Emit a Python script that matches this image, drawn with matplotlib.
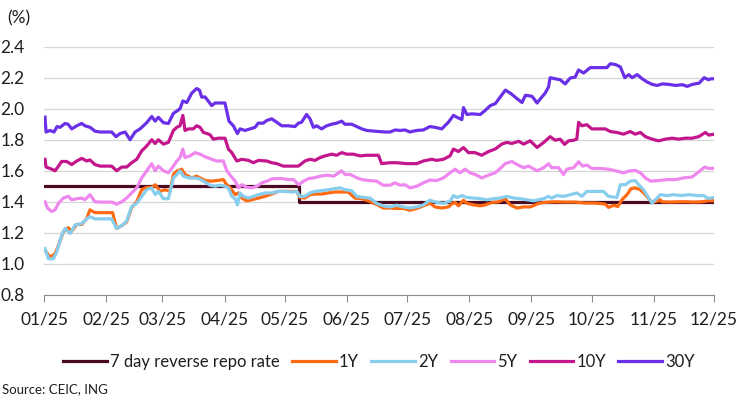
import matplotlib
matplotlib.use("Agg")
import matplotlib.pyplot as plt
import matplotlib.dates as mdates
from matplotlib.ticker import FormatStrFormatter
import numpy as np
import pandas as pd

plt.rcParams['font.family'] = ['Lato', 'DejaVu Sans']
plt.rcParams['text.color'] = '#1e1e1e'
plt.rcParams['xtick.color'] = '#1e1e1e'
plt.rcParams['ytick.color'] = '#1e1e1e'

START = pd.Timestamp('2025-01-01')
END = pd.Timestamp('2025-12-01')

# 7 day reverse repo rate (step)
repo_dates = ['2025-01-01', '2025-05-08', '2025-12-01']
repo = [1.5, 1.4, 1.4]

# days since 1 Jan 2025 and yields (%)
y1_days = [0.5, 3, 5.5, 7.2, 9.6, 12.1, 13.8, 16.3, 18.8, 21.3, 22.9, 25.4, 31.2, 34.2, 36.2, 38.7, 41.2,
           43.7, 46.2, 48.7, 51.2, 53.7, 55.4, 57.8, 60.3, 62.8, 64.5, 66.2, 68.6, 70.3, 73.6, 76.1, 77.8,
           80.3, 83.6, 86.1, 89.4, 91.1, 92.8, 95.3, 96.9, 98.6, 101.1, 103.6, 106.9, 110.2, 113.5,
           116.8, 120.2, 123.5, 126, 127.6, 130.1, 132.6, 135.1, 138.4, 141.7, 145, 148.4, 151.7, 155,
           158.4, 161.7, 165.8, 169.1, 172.5, 175.8, 179.1, 182.4, 185.8, 189.1, 192.4, 194.9, 198.3,
           201.6, 203.7, 204.9, 206.6, 209.1, 210.8, 214.1, 217.5, 220, 223.3, 226.6, 229.9, 232.4,
           235.8, 239.1, 242.4, 244.9, 246.6, 249.1, 254.8, 259.8, 264.8, 269.8, 274.8, 279.8, 281.4,
           283.9, 286.1, 288.1, 290.6, 292.7, 294.7, 297.2, 298.9, 300.5, 302.2, 303.8, 306.3, 307.2,
           308, 312.2, 316.3, 320.5, 323.8, 328, 331.3, 334]
y1 = [1.087, 1.043, 1.065, 1.12, 1.206, 1.233, 1.21, 1.254, 1.254, 1.293, 1.348, 1.33, 1.33, 1.33, 1.228,
      1.246, 1.27, 1.363, 1.40, 1.478, 1.493, 1.493, 1.51, 1.467, 1.478, 1.467, 1.576, 1.598, 1.61, 1.576,
      1.554, 1.565, 1.554, 1.537, 1.533, 1.537, 1.543, 1.51, 1.49, 1.446, 1.457, 1.424, 1.406, 1.413,
      1.424, 1.435, 1.45, 1.467, 1.467, 1.467, 1.467, 1.428, 1.424, 1.446, 1.45, 1.45, 1.457, 1.463,
      1.463, 1.463, 1.424, 1.42, 1.406, 1.383, 1.36, 1.36, 1.357, 1.357, 1.346, 1.357, 1.374, 1.39,
      1.367, 1.36, 1.367, 1.39, 1.396, 1.374, 1.41, 1.39, 1.38, 1.374, 1.38, 1.396, 1.40, 1.42, 1.38,
      1.36, 1.367, 1.367, 1.38, 1.39, 1.396, 1.40, 1.398, 1.398, 1.392, 1.392, 1.385, 1.364, 1.377,
      1.37, 1.413, 1.446, 1.485, 1.49, 1.478, 1.457, 1.435, 1.407, 1.398, 1.407, 1.413, 1.40, 1.398,
      1.40, 1.40, 1.398, 1.40, 1.407, 1.407]

y2_days = [0.5, 2.2, 4.7, 6.3, 8.8, 10.5, 13, 15.5, 18.8, 21.3, 22.9, 25.4, 33.7, 36.2, 38.7, 41.2, 43.7,
           46.2, 48.7, 51.2, 53.7, 55.4, 57, 59.5, 62, 64.5, 66.2, 67.8, 69.5, 72, 74.4, 77, 79.4, 82.8,
           85.3, 87.8, 90.2, 91.9, 93.6, 95.3, 96.4, 97.7, 99.4, 101.9, 104.4, 106.9, 110.2, 113.5,
           116.8, 119.3, 123.5, 126, 127.6, 130.1, 132.6, 135.1, 138.4, 141.7, 145, 147.6, 150.1, 153.4,
           155.9, 159.3, 162.6, 165.8, 169.1, 172.5, 175.8, 179.1, 182.4, 185.8, 189.1, 192.4, 195.8,
           199.1, 202.4, 204.1, 205.8, 208.3, 210.8, 214.1, 217.5, 220.8, 224.1, 227.4, 230.7, 234.1,
           237.4, 240.7, 244.1, 246.6, 249.1, 251.5, 253.1, 255.6, 259, 262.3, 265.6, 268.1, 270.6,
           274.8, 278.9, 281.4, 285.6, 287.3, 289.8, 292.2, 294.7, 296.4, 298.9, 301.4, 303.1, 305.6,
           307.2, 310.6, 313.9, 317.2, 321.4, 325.6, 328.9, 330.6, 332.2, 334]
y2 = [1.098, 1.033, 1.033, 1.076, 1.185, 1.228, 1.196, 1.25, 1.26, 1.29, 1.304, 1.29, 1.29, 1.228, 1.246,
      1.276, 1.37, 1.39, 1.435, 1.478, 1.489, 1.446, 1.467, 1.42, 1.42, 1.554, 1.576, 1.60, 1.565, 1.554,
      1.554, 1.55, 1.533, 1.507, 1.50, 1.507, 1.50, 1.49, 1.435, 1.42, 1.38, 1.457, 1.435, 1.424, 1.435,
      1.446, 1.457, 1.457, 1.467, 1.467, 1.463, 1.467, 1.435, 1.435, 1.457, 1.467, 1.472, 1.478, 1.485,
      1.49, 1.478, 1.472, 1.435, 1.428, 1.424, 1.39, 1.374, 1.367, 1.378, 1.367, 1.36, 1.367, 1.38,
      1.41, 1.396, 1.39, 1.404, 1.44, 1.428, 1.44, 1.428, 1.424, 1.42, 1.413, 1.42, 1.424, 1.435,
      1.424, 1.42, 1.413, 1.406, 1.413, 1.42, 1.435, 1.424, 1.44, 1.435, 1.446, 1.457, 1.435, 1.467,
      1.467, 1.467, 1.435, 1.428, 1.51, 1.51, 1.533, 1.537, 1.51, 1.478, 1.424, 1.392, 1.424, 1.446,
      1.44, 1.446, 1.44, 1.446, 1.44, 1.44, 1.424, 1.424, 1.428]

y5_days = [0.5, 1.7, 3.8, 5.5, 7.2, 9.6, 12.1, 13.8, 16.3, 18.8, 20.4, 22.9, 25.4, 27.9, 33.7, 36.2, 38.7,
           41.2, 43.7, 46.2, 48.7, 51.2, 53.7, 55.4, 57, 59.5, 62, 64.5, 66.2, 67.8, 69.2, 70.3, 72.8,
           75.3, 77.8, 80.3, 83.6, 86.1, 89.4, 91.1, 93.2, 95.3, 96.9, 98.6, 101.1, 103.6, 106.1, 108.6,
           111.1, 113.6, 116.1, 118.6, 121.9, 124.4, 126.9, 129.4, 131.9, 134.4, 137.7, 141, 144.4,
           146.9, 148.2, 150.2, 152.7, 156.1, 158.6, 161.9, 165.8, 169.1, 172.5, 175, 177.5, 180, 182.4,
           185.8, 189.1, 192.4, 195.8, 199.1, 202.4, 204.9, 207.4, 209.9, 212.4, 215.7, 218.2, 221.6,
           224.9, 227.4, 229.9, 233.2, 235.8, 239.1, 241.6, 245.8, 249.1, 251.5, 253.1, 256.5, 259,
           260.6, 264, 266.5, 268.5, 270.6, 273.1, 277.3, 281.4, 284.8, 288.9, 292.2, 294.7, 297.3,
           299.8, 302.3, 306.4, 310.6, 314.7, 318.9, 323.1, 326.4, 329.4, 331.4, 334]
y5 = [1.40, 1.36, 1.337, 1.348, 1.39, 1.424, 1.435, 1.413, 1.42, 1.424, 1.413, 1.446, 1.40, 1.398, 1.398,
      1.385, 1.40, 1.424, 1.457, 1.49, 1.554, 1.60, 1.646, 1.60, 1.63, 1.60, 1.587, 1.63, 1.663, 1.685,
      1.74, 1.685, 1.696, 1.717, 1.707, 1.69, 1.674, 1.663, 1.663, 1.60, 1.565, 1.533, 1.49, 1.51, 1.494,
      1.49, 1.50, 1.522, 1.533, 1.548, 1.55, 1.55, 1.543, 1.543, 1.51, 1.533, 1.55, 1.554, 1.565, 1.572,
      1.565, 1.587, 1.60, 1.576, 1.576, 1.554, 1.543, 1.537, 1.533, 1.507, 1.507, 1.522, 1.507, 1.51,
      1.49, 1.50, 1.522, 1.54, 1.537, 1.554, 1.587, 1.61, 1.587, 1.61, 1.587, 1.572, 1.554, 1.572, 1.587,
      1.615, 1.646, 1.66, 1.64, 1.62, 1.63, 1.60, 1.62, 1.645, 1.62, 1.62, 1.576, 1.61, 1.62, 1.658,
      1.63, 1.637, 1.615, 1.615, 1.61, 1.60, 1.587, 1.60, 1.602, 1.587, 1.554, 1.533, 1.537, 1.543,
      1.543, 1.554, 1.56, 1.593, 1.624, 1.615, 1.615]

y10_days = [0.5, 1, 3, 5.5, 7.2, 8.8, 11.3, 13.8, 16.3, 18.8, 21.3, 22.9, 25.4, 28, 33.7, 36.2, 38.7, 41.2,
            43.7, 46.2, 48.7, 51.2, 53.7, 55.4, 57, 59.5, 62, 64.5, 66.2, 67.8, 69.2, 70.3, 72, 74.4, 76.1,
            77.8, 79.4, 82.7, 84.4, 86.9, 90.2, 91.9, 93.6, 96.1, 98.6, 101.9, 104.4, 106.9, 111, 113.5,
            116, 119.3, 122.6, 126.8, 130.1, 132.6, 135.1, 137.6, 140.1, 143.4, 145.9, 148.4, 150.9, 154.2,
            157.6, 160.9, 165, 166.7, 168.3, 172.5, 175.8, 180.8, 185.8, 189.1, 193.2, 195.8, 199.1, 202.4,
            204.1, 206.6, 209.1, 211.6, 214.9, 218.2, 221.6, 224.9, 228.2, 230.7, 233.2, 236.6, 239.1,
            242.4, 245.8, 249.1, 252.3, 254.8, 257.3, 259.5, 261.5, 264, 265.6, 266.5, 268.1, 270.6, 273.1,
            276.5, 279.8, 282.3, 285.6, 288.9, 292.2, 294.7, 297.3, 299.8, 303.1, 306.4, 309.8, 313.1,
            316.4, 319.7, 323.1, 326.4, 329.7, 331.4, 334]
y10 = [1.674, 1.624, 1.615, 1.60, 1.63, 1.66, 1.66, 1.64, 1.663, 1.68, 1.663, 1.67, 1.64, 1.63, 1.63, 1.60,
       1.624, 1.624, 1.652, 1.674, 1.728, 1.76, 1.80, 1.776, 1.80, 1.772, 1.783, 1.86, 1.88, 1.89, 1.957,
       1.86, 1.87, 1.87, 1.89, 1.88, 1.848, 1.833, 1.804, 1.81, 1.81, 1.74, 1.717, 1.663, 1.674, 1.667,
       1.652, 1.667, 1.663, 1.652, 1.646, 1.63, 1.63, 1.63, 1.663, 1.674, 1.667, 1.685, 1.696, 1.707,
       1.70, 1.717, 1.707, 1.707, 1.696, 1.70, 1.70, 1.70, 1.646, 1.652, 1.652, 1.646, 1.646, 1.663,
       1.674, 1.667, 1.674, 1.696, 1.74, 1.724, 1.75, 1.717, 1.717, 1.70, 1.724, 1.74, 1.772, 1.783,
       1.776, 1.79, 1.772, 1.793, 1.75, 1.783, 1.82, 1.797, 1.804, 1.77, 1.793, 1.797, 1.804, 1.912, 1.89,
       1.897, 1.87, 1.87, 1.87, 1.853, 1.847, 1.836, 1.853, 1.836, 1.847, 1.82, 1.804, 1.793, 1.804, 1.81,
       1.804, 1.81, 1.81, 1.82, 1.847, 1.83, 1.836]

y30_days = [0.5, 1, 3, 5, 6.5, 8, 10.5, 12, 13.8, 16.3, 18.8, 20.4, 23, 25.4, 28, 33.7, 35.9, 37.9, 40.4,
            42.9, 45.4, 47.9, 51.2, 53.7, 55.4, 57, 59.5, 62, 64.5, 66.2, 67.8, 69.2, 71.2, 73.6, 76.1, 77.5,
            78.6, 80.3, 83.6, 85.3, 90.2, 92.2, 94.4, 96.4, 97.7, 100.2, 102.7, 105.2, 106.8, 109.3, 111,
            113.5, 116, 118.5, 121.8, 125.1, 126.8, 128.4, 130.9, 132.6, 134.3, 135.9, 138.4, 140.9, 143.4,
            145.9, 148.4, 150, 153.4, 155.9, 158.4, 160.9, 165.8, 170, 172.5, 175, 177.5, 180, 182.4, 185.8,
            189.1, 192.4, 194.9, 198.3, 201.6, 204.1, 206.6, 208.3, 209.1, 210.8, 213.3, 217.5, 220, 222.5,
            225, 227.5, 230, 232.5, 235.8, 238.3, 240, 243.3, 245.8, 247.5, 249.8, 251.5, 252.3, 254.8,
            257.3, 259.8, 262.3, 264.8, 266.5, 269, 272.3, 276.5, 280.6, 282.3, 284.8, 287.3, 289.5, 291.5,
            293.2, 295.7, 298.2, 300.7, 303.2, 305.7, 308.2, 311.6, 314.9, 318.2, 320.7, 323.2, 326.6,
            329.1, 331.2, 332.4, 334]
y30 = [1.946, 1.85, 1.86, 1.85, 1.885, 1.88, 1.905, 1.90, 1.87, 1.89, 1.905, 1.89, 1.88, 1.855, 1.85, 1.85,
       1.82, 1.84, 1.85, 1.80, 1.85, 1.87, 1.91, 1.95, 1.92, 1.945, 1.91, 1.905, 1.97, 1.985, 2.0, 2.05,
       2.04, 2.10, 2.13, 2.12, 2.075, 2.076, 2.02, 2.037, 2.037, 1.92, 1.89, 1.84, 1.87, 1.86, 1.87, 1.88,
       1.907, 1.907, 1.924, 1.935, 1.913, 1.89, 1.89, 1.885, 1.907, 1.913, 1.963, 1.935, 1.88, 1.89, 1.87,
       1.89, 1.90, 1.907, 1.92, 1.90, 1.90, 1.885, 1.87, 1.86, 1.854, 1.85, 1.85, 1.863, 1.86, 1.863,
       1.85, 1.86, 1.863, 1.885, 1.88, 1.87, 1.913, 1.957, 1.94, 1.93, 2.007, 1.963, 1.967, 1.963, 1.99,
       2.02, 2.033, 2.076, 2.12, 2.10, 2.065, 2.04, 2.087, 2.08, 2.037, 2.065, 2.10, 2.14, 2.20, 2.193,
       2.187, 2.16, 2.198, 2.204, 2.25, 2.23, 2.265, 2.265, 2.265, 2.29, 2.285, 2.27, 2.20, 2.22, 2.20,
       2.22, 2.193, 2.172, 2.157, 2.15, 2.16, 2.157, 2.15, 2.155, 2.144, 2.157, 2.165, 2.20, 2.187, 2.193,
       2.193]

series = [
    ('1Y', y1_days, y1, '#ff6a13'),
    ('2Y', y2_days, y2, '#87cdee'),
    ('5Y', y5_days, y5, '#ee88ee'),
    ('10Y', y10_days, y10, '#c4168c'),
    ('30Y', y30_days, y30, '#6a30e8'),
]


def to_dates(days):
    return START + pd.to_timedelta(np.asarray(days), unit='D')


fig, ax = plt.subplots(figsize=(7.5, 3.99), dpi=100)
fig.subplots_adjust(left=0.0587, right=0.952, top=0.883, bottom=0.261)

ax.plot(pd.to_datetime(repo_dates), repo, drawstyle='steps-post', color='#4a0a22', lw=2.3,
        label='7 day reverse repo rate')
for name, days, vals, col in series:
    ax.plot(to_dates(days), vals, color=col, lw=2.3, label=name)

ax.set_xlim(START, END)
ax.set_ylim(0.8, 2.4)
ax.set_yticks(np.arange(0.8, 2.41, 0.2))
ax.yaxis.set_major_formatter(FormatStrFormatter('%.1f'))
ax.xaxis.set_major_locator(mdates.MonthLocator())
ax.xaxis.set_major_formatter(mdates.DateFormatter('%m/%y'))

ax.grid(axis='y', color='#d6d6d6', lw=0.9)
ax.set_axisbelow(True)
for s in ['top', 'right', 'left']:
    ax.spines[s].set_visible(False)
ax.spines['bottom'].set_color('#8c8c8c')
ax.tick_params(axis='y', length=0, pad=14, labelsize=12.5)
ax.tick_params(axis='x', length=5, color='#8c8c8c', pad=7, labelsize=12.5)

fig.text(0.01, 0.955, '(%)', fontsize=12.5, va='center')
ax.legend(loc='center', bbox_to_anchor=(0.5, -0.27), ncol=6, frameon=False, fontsize=12,
          handlelength=2.6, handletextpad=0.2, columnspacing=0.75)
fig.text(0.003, 0.025, 'Source: CEIC, ING', fontsize=9.5, va='center')

fig.savefig('out.png', dpi=100)
